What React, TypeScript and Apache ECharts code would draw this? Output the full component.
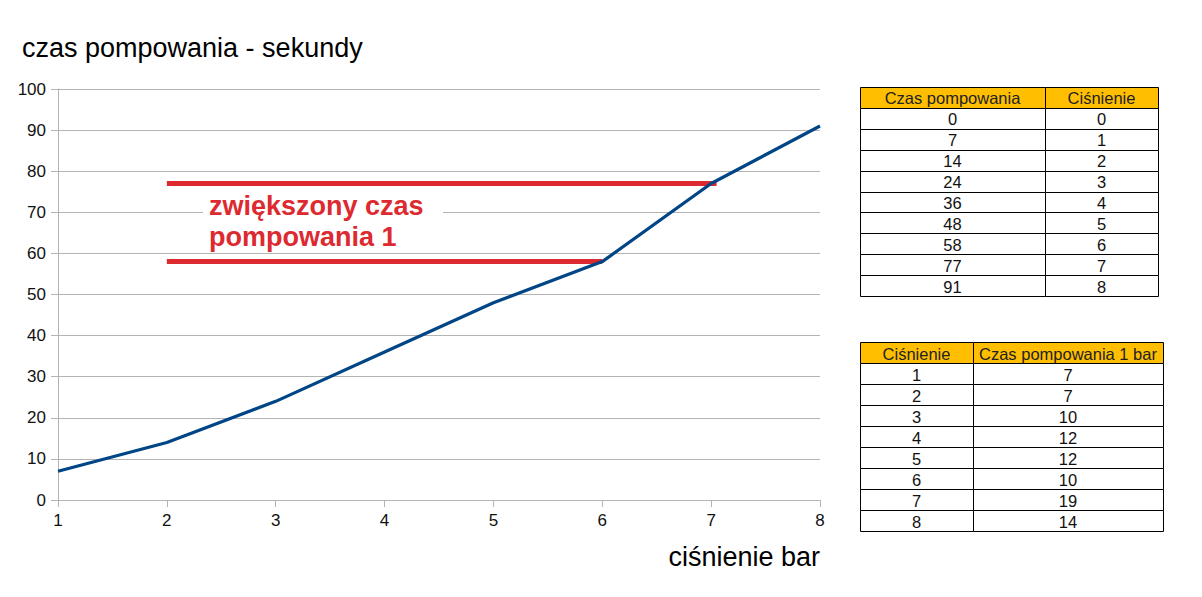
import * as echarts from 'echarts';
import { useEffect, useRef } from 'react';

// pressure (bar) on x, pumping time (s) on y
const pressures = [1, 2, 3, 4, 5, 6, 7, 8];
const pumpSeconds = [7, 14, 24, 36, 48, 58, 77, 91];

// red annotation lines
const markerStart = 2;
const markerLevels = [77, 58];
const markerEnds = [7.05, 6];
const markerLines = ['zwiększony czas', 'pompowania 1'];

// table 1
const tableOneHeader = ['Czas pompowania', 'Ciśnienie'];
const tableOneTimes = [0, 7, 14, 24, 36, 48, 58, 77, 91];
const tableOnePressures = [0, 1, 2, 3, 4, 5, 6, 7, 8];

// table 2
const tableTwoHeader = ['Ciśnienie', 'Czas pompowania 1 bar'];
const tableTwoPressures = [1, 2, 3, 4, 5, 6, 7, 8];
const tableTwoPerBar = [7, 7, 10, 12, 12, 10, 19, 14];

const FONT = 'Liberation Sans, Arial, sans-serif';
const GRID_COLOR = '#b3b3b3';

function buildTable(
  x0: number,
  y0: number,
  colWidths: number[],
  rowHeight: number,
  header: string[],
  columns: (number | string)[][]
) {
  const elements: any[] = [];
  const rows = [header, ...columns[0].map((_, i) => columns.map((c) => c[i]))];

  rows.forEach((row, r) => {
    let x = x0;
    row.forEach((cell, c) => {
      const w = colWidths[c];
      const y = y0 + r * rowHeight;
      elements.push({
        type: 'rect',
        shape: { x: Math.round(x) + 0.5, y: Math.round(y) + 0.5, width: Math.round(w), height: Math.round(rowHeight) },
        style: { fill: r === 0 ? '#ffbf00' : '#ffffff', stroke: '#000', lineWidth: 1 },
      });
      elements.push({
        type: 'text',
        x: x + w / 2,
        y: y + rowHeight / 2 + 1,
        style: {
          text: String(cell),
          fontSize: 16.5,
          fontFamily: FONT,
          fill: r === 0 ? '#222' : '#111',
          align: 'center',
          verticalAlign: 'middle',
          textAlign: 'center',
          textVerticalAlign: 'middle',
        },
      });
      x += w;
    });
  });
  return elements;
}

function App() {
  const chartRef = useRef<HTMLDivElement>(null);

  useEffect(() => {
    const chart = echarts.init(chartRef.current, null, { renderer: 'svg' });

    const markerSeries = markerLevels.map((level, i) => ({
      type: 'line',
      silent: true,
      showSymbol: false,
      z: 1,
      lineStyle: { color: '#dd2a30', width: 5 },
      data: [
        [markerStart, level],
        [markerEnds[i], level],
      ],
    }));

    const markerTexts = markerLines.map((line, i) => ({
      type: 'text',
      x: 209,
      y: 206 + i * 30.5,
      z: 11,
      style: {
        text: line,
        fontFamily: FONT,
        fontWeight: 'bold',
        fontSize: 27,
        fill: '#dd2a30',
        verticalAlign: 'middle',
        textVerticalAlign: 'middle',
      },
    }));

    const option = {
      animation: false,
      title: {
        text: 'czas pompowania - sekundy',
        left: 17,
        top: 29,
        textStyle: { fontFamily: FONT, fontSize: 27, fontWeight: 'normal', color: '#000' },
      },
      grid: { left: 58, right: 382, top: 89, bottom: 97 },
      xAxis: {
        type: 'value',
        min: 1,
        max: 8,
        interval: 1,
        axisLine: { show: true, lineStyle: { color: GRID_COLOR } },
        axisTick: { show: true, length: 7, lineStyle: { color: GRID_COLOR } },
        splitLine: { show: false },
        axisLabel: { fontFamily: FONT, fontSize: 17, color: '#111', margin: 12 },
      },
      yAxis: {
        type: 'value',
        min: 0,
        max: 100,
        interval: 10,
        axisLine: { show: true, lineStyle: { color: GRID_COLOR } },
        axisTick: { show: true, length: 7, lineStyle: { color: GRID_COLOR } },
        splitLine: { show: true, lineStyle: { color: GRID_COLOR } },
        axisLabel: { fontFamily: FONT, fontSize: 17, color: '#111', margin: 12 },
      },
      series: [
        ...markerSeries,
        {
          type: 'line',
          showSymbol: false,
          z: 3,
          lineStyle: { color: '#004586', width: 3.2 },
          data: pressures.map((p, i) => [p, pumpSeconds[i]]),
        },
      ],
      graphic: [
        // white box behind the annotation, hides the grid line
        {
          type: 'rect',
          z: 10,
          shape: { x: 203, y: 194, width: 240, height: 56 },
          style: { fill: '#fff' },
        },
        ...markerTexts,
        {
          type: 'text',
          x: 820,
          y: 557,
          style: {
            text: 'ciśnienie bar',
            fontFamily: FONT,
            fontSize: 27,
            fill: '#000',
            align: 'right',
            textAlign: 'right',
            verticalAlign: 'middle',
            textVerticalAlign: 'middle',
          },
        },
        ...buildTable(860, 87, [185, 113], 20.9, tableOneHeader, [tableOneTimes, tableOnePressures]),
        ...buildTable(860, 342, [113, 190], 21, tableTwoHeader, [tableTwoPressures, tableTwoPerBar]),
      ],
    };

    chart.setOption(option);

    return () => {
      chart.dispose();
    };
  }, []);

  return (
    <div
      ref={chartRef}
      style={{ position: 'absolute', left: 0, top: 0, width: '1202px', height: '597px', background: '#fff' }}
    ></div>
  );
}

export default App;
